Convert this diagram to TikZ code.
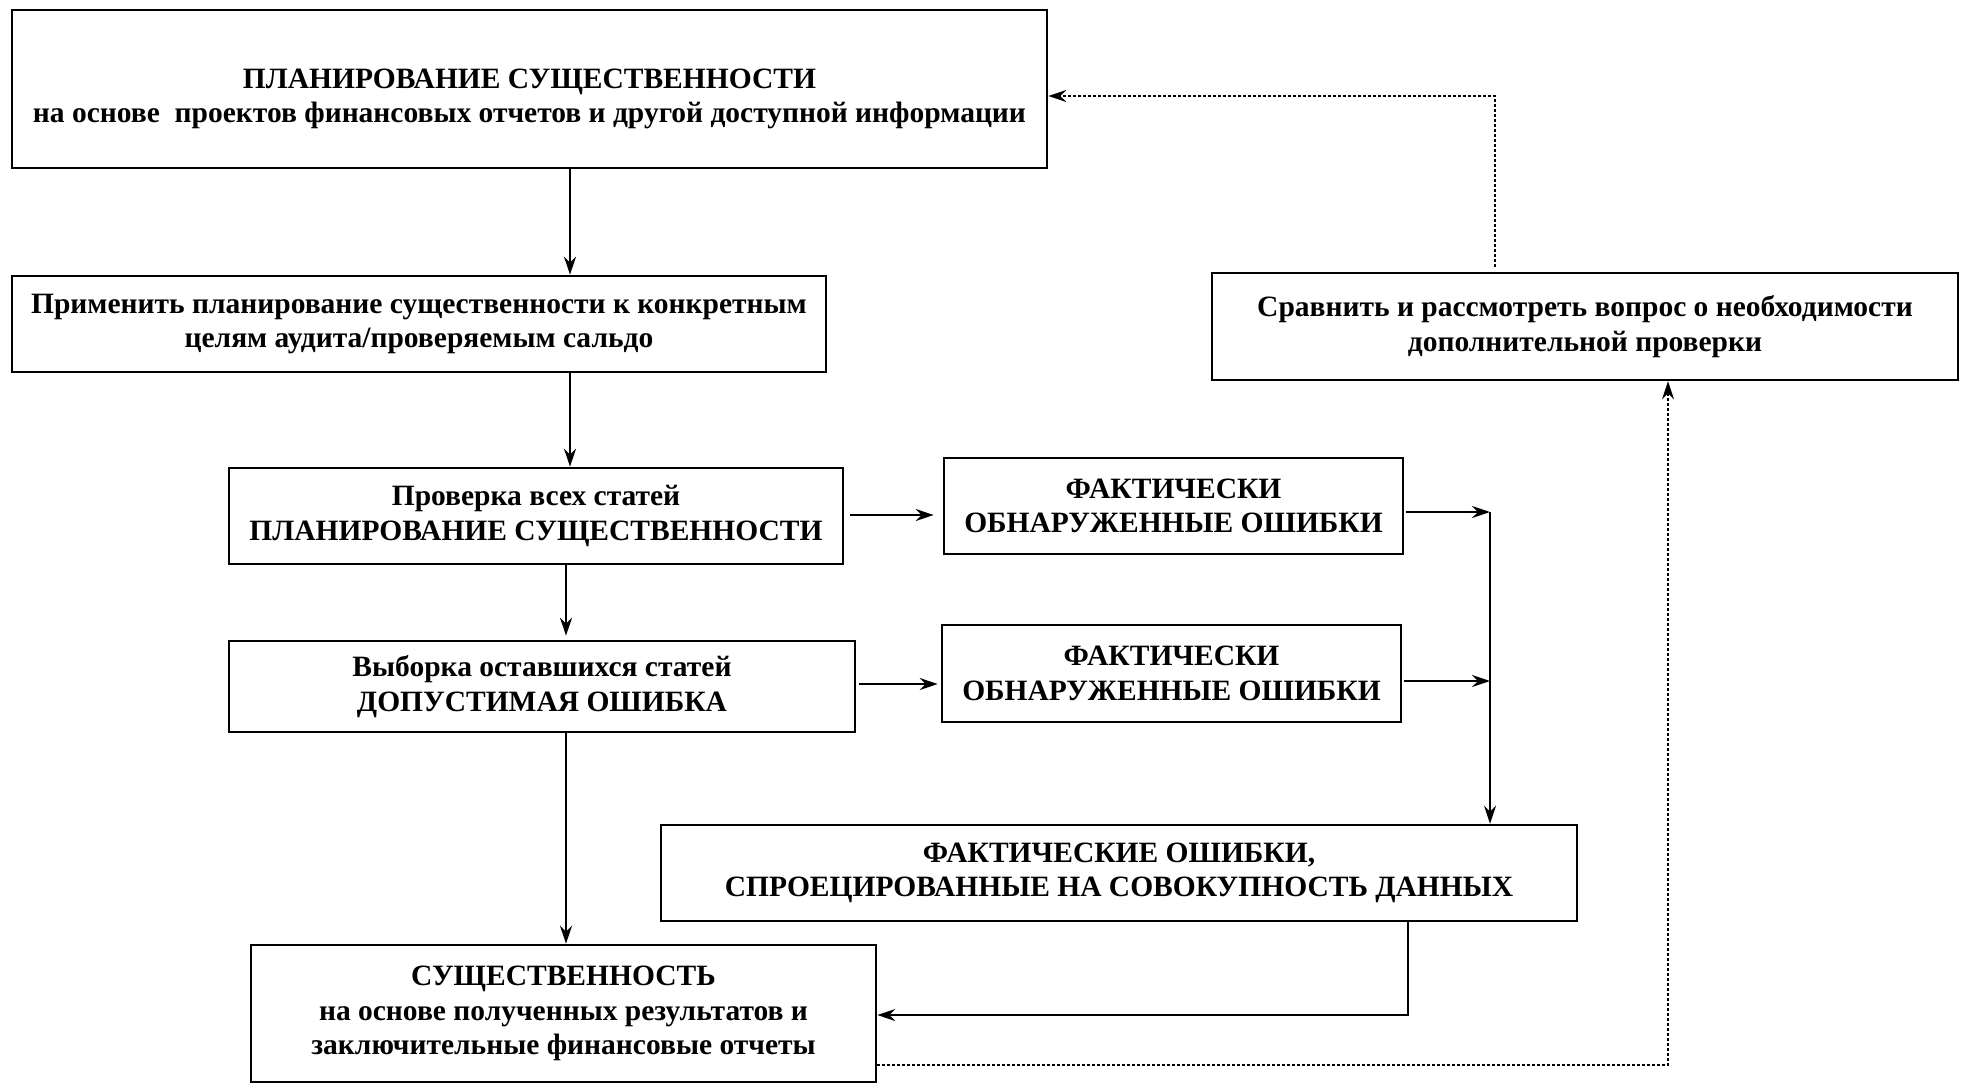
\documentclass[tikz,border=0pt]{standalone}
\usepackage{fontspec}
\setmainfont{Liberation Serif}
\usetikzlibrary{arrows.meta}
\begin{document}
\begin{tikzpicture}[x=1pt,y=-1pt,
  txt/.style={align=center, inner sep=0pt, font=\bfseries\fontsize{29.5}{34.5}\selectfont},
  box/.style={txt, draw, line width=2.6pt},
  tip/.style={-{Stealth[length=18pt,width=12pt,inset=6pt]}},
  conn/.style={tip, line width=1.7pt},
  dots/.style={tip, line width=1.6pt, dash pattern=on 2.5pt off 2.5pt}]
\useasboundingbox (0,0) rectangle (1962,1084);
% boxes
\node[box, minimum width=1035pt, minimum height=158pt] (b1) at (529.5,89) {};
\node[txt] (t1) at (529.5,99) {ПЛАНИРОВАНИЕ СУЩЕСТВЕННОСТИ\\на основе~ проектов финансовых отчетов и другой доступной информации};
\node[box, minimum width=814pt, minimum height=96pt] (b2) at (419,324) {Применить планирование существенности к конкретным\\целям аудита/проверяемым сальдо};
\node[box, minimum width=746pt, minimum height=107pt] (b9) at (1585,326.5) {Сравнить и рассмотреть вопрос о необходимости\\дополнительной проверки};
\node[box, minimum width=614pt, minimum height=96pt] (b3) at (536,516) {Проверка всех статей\\ПЛАНИРОВАНИЕ СУЩЕСТВЕННОСТИ};
\node[box, minimum width=459pt, minimum height=96pt] (b4) at (1173.5,506) {ФАКТИЧЕСКИ\\ОБНАРУЖЕННЫЕ ОШИБКИ};
\node[box, minimum width=626pt, minimum height=91pt] (b5) at (542,686.5) {Выборка оставшихся статей\\ДОПУСТИМАЯ ОШИБКА};
\node[box, minimum width=459pt, minimum height=97pt] (b6) at (1171.5,673.5) {ФАКТИЧЕСКИ\\ОБНАРУЖЕННЫЕ ОШИБКИ};
\node[box, minimum width=916pt, minimum height=96pt] (b7) at (1119,873) {ФАКТИЧЕСКИЕ ОШИБКИ,\\СПРОЕЦИРОВАННЫЕ НА СОВОКУПНОСТЬ ДАННЫХ};
\node[box, minimum width=625pt, minimum height=137pt] (b8) at (563.5,1013.5) {СУЩЕСТВЕННОСТЬ\\на основе полученных результатов и\\заключительные финансовые отчеты};
% guide coordinates
\coordinate (xa) at (570,0);
\coordinate (xb) at (566,0);
\coordinate (xc) at (1490,0);
\coordinate (xd) at (1408,0);
\coordinate (xe) at (1668,0);
\coordinate (xf) at (1495,0);
\coordinate (r0) at (0,515);
\coordinate (r1) at (0,512);
\coordinate (r2) at (0,684);
\coordinate (r2b) at (0,681);
\coordinate (r3) at (0,1015);
\coordinate (r4) at (0,1065);
\coordinate (r5) at (0,96);
% solid connectors
\draw[conn] (b1.south -| xa) -- (b2.north -| xa);
\draw[conn] (b2.south -| xa) -- (b3.north -| xa);
\draw[conn, shorten >=4pt] (b3.south -| xb) -- (b5.north -| xb);
\draw[conn] (b5.south -| xb) -- (b8.north -| xb);
\draw[conn, shorten <=6pt, shorten >=9pt] (b3.east |- r0) -- (b4.west |- r0);
\draw[conn, shorten <=3pt, shorten >=3pt] (b5.east |- r2) -- (b6.west |- r2);
\draw[conn, shorten <=2pt] (b4.east |- r1) -- (xc |- r1);
\draw[conn, shorten <=2pt] (b6.east |- r2b) -- (xc |- r2b);
\draw[conn] (xc |- r1) -- (b7.north -| xc);
\draw[conn] (b7.south -| xd) |- (b8.east |- r3);
% dotted connectors
\draw[dots] (b8.east |- r4) -| (b9.south -| xe);
\draw[dots, shorten <=5pt] (b9.north -| xf) |- (b1.east |- r5);
\end{tikzpicture}
\end{document}
